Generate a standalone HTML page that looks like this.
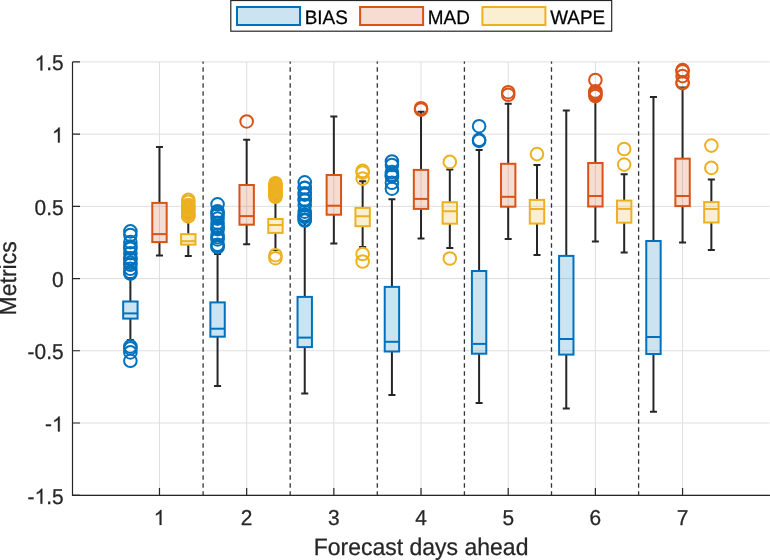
<!DOCTYPE html>
<html><head><meta charset="utf-8"><title>Metrics boxchart</title>
<style>html,body{margin:0;padding:0;background:#fff;}svg{display:block;font-family:"Liberation Sans",sans-serif;text-rendering:geometricPrecision;will-change:transform;}</style>
</head><body>
<svg width="770" height="560" viewBox="0 0 770 560">
<rect x="0" y="0" width="770" height="560" fill="#fff"/>
<path d="M72.3 495.2H769.74M72.3 422.98H769.74M72.3 350.77H769.74M72.3 278.55H769.74M72.3 206.33H769.74M72.3 134.12H769.74M72.3 61.9H769.74M159.48 61.9V495.2M246.66 61.9V495.2M333.84 61.9V495.2M421.02 61.9V495.2M508.2 61.9V495.2M595.38 61.9V495.2M682.56 61.9V495.2" stroke="#dfdfdf" stroke-width="1" fill="none"/>
<clipPath id="cp"><rect x="0" y="61.4" width="770" height="433.8"/></clipPath>
<path clip-path="url(#cp)" d="M203.1 59.15V495.2M290.2 59.15V495.2M377.3 59.15V495.2M464.4 59.15V495.2M551.5 59.15V495.2M638.6 59.15V495.2" stroke="#333" stroke-width="1.3" stroke-dasharray="4.6 3.4" fill="none"/>
<path d="M130.38 301.5V278.1M130.38 318.6V340M126.88 278.1H133.88M126.88 340H133.88" stroke="#262626" stroke-width="2" fill="none"/>
<rect x="123.18" y="301.5" width="14.4" height="17.1" fill="#0072BD" fill-opacity="0.2" stroke="#0072BD" stroke-width="2"/>
<path d="M123.18 313.4H137.58" stroke="#0072BD" stroke-width="2"/>
<circle cx="130.38" cy="231.4" r="6.3" fill="none" stroke="#0072BD" stroke-width="2"/>
<circle cx="130.38" cy="235" r="6.3" fill="none" stroke="#0072BD" stroke-width="2"/>
<circle cx="130.38" cy="242.1" r="6.3" fill="none" stroke="#0072BD" stroke-width="2"/>
<circle cx="130.38" cy="246.5" r="6.3" fill="none" stroke="#0072BD" stroke-width="2"/>
<circle cx="130.38" cy="248.7" r="6.3" fill="none" stroke="#0072BD" stroke-width="2"/>
<circle cx="130.38" cy="253.2" r="6.3" fill="none" stroke="#0072BD" stroke-width="2"/>
<circle cx="130.38" cy="258.2" r="6.3" fill="none" stroke="#0072BD" stroke-width="2"/>
<circle cx="130.38" cy="259.4" r="6.3" fill="none" stroke="#0072BD" stroke-width="2"/>
<circle cx="130.38" cy="262.9" r="6.3" fill="none" stroke="#0072BD" stroke-width="2"/>
<circle cx="130.38" cy="264.8" r="6.3" fill="none" stroke="#0072BD" stroke-width="2"/>
<circle cx="130.38" cy="268.8" r="6.3" fill="none" stroke="#0072BD" stroke-width="2"/>
<circle cx="130.38" cy="271.9" r="6.3" fill="none" stroke="#0072BD" stroke-width="2"/>
<circle cx="130.38" cy="273.6" r="6.3" fill="none" stroke="#0072BD" stroke-width="2"/>
<circle cx="130.38" cy="346.4" r="6.3" fill="none" stroke="#0072BD" stroke-width="2"/>
<circle cx="130.38" cy="348.4" r="6.3" fill="none" stroke="#0072BD" stroke-width="2"/>
<circle cx="130.38" cy="352.4" r="6.3" fill="none" stroke="#0072BD" stroke-width="2"/>
<circle cx="130.38" cy="360.8" r="6.3" fill="none" stroke="#0072BD" stroke-width="2"/>
<path d="M159.48 202.9V146.9M159.48 242.1V255.4M155.98 146.9H162.98M155.98 255.4H162.98" stroke="#262626" stroke-width="2" fill="none"/>
<rect x="152.28" y="202.9" width="14.4" height="39.2" fill="#D95319" fill-opacity="0.2" stroke="#D95319" stroke-width="2"/>
<path d="M152.28 234.1H166.68" stroke="#D95319" stroke-width="2"/>
<path d="M188.28 234.1V218.4M188.28 244.6V256.1M184.78 218.4H191.78M184.78 256.1H191.78" stroke="#262626" stroke-width="2" fill="none"/>
<rect x="181.08" y="234.1" width="14.4" height="10.5" fill="#EDB120" fill-opacity="0.2" stroke="#EDB120" stroke-width="2"/>
<path d="M181.08 241.2H195.48" stroke="#EDB120" stroke-width="2"/>
<circle cx="188.28" cy="199.9" r="6.3" fill="none" stroke="#EDB120" stroke-width="2"/>
<circle cx="188.28" cy="201.9" r="6.3" fill="none" stroke="#EDB120" stroke-width="2"/>
<circle cx="188.28" cy="205" r="6.3" fill="none" stroke="#EDB120" stroke-width="2"/>
<circle cx="188.28" cy="206.8" r="6.3" fill="none" stroke="#EDB120" stroke-width="2"/>
<circle cx="188.28" cy="207.6" r="6.3" fill="none" stroke="#EDB120" stroke-width="2"/>
<circle cx="188.28" cy="209.1" r="6.3" fill="none" stroke="#EDB120" stroke-width="2"/>
<circle cx="188.28" cy="210.8" r="6.3" fill="none" stroke="#EDB120" stroke-width="2"/>
<circle cx="188.28" cy="212.8" r="6.3" fill="none" stroke="#EDB120" stroke-width="2"/>
<circle cx="188.28" cy="213.9" r="6.3" fill="none" stroke="#EDB120" stroke-width="2"/>
<circle cx="188.28" cy="215.8" r="6.3" fill="none" stroke="#EDB120" stroke-width="2"/>
<circle cx="188.28" cy="216.4" r="6.3" fill="none" stroke="#EDB120" stroke-width="2"/>
<path d="M217.56 302.4V254.1M217.56 336.7V386M214.06 254.1H221.06M214.06 386H221.06" stroke="#262626" stroke-width="2" fill="none"/>
<rect x="210.36" y="302.4" width="14.4" height="34.3" fill="#0072BD" fill-opacity="0.2" stroke="#0072BD" stroke-width="2"/>
<path d="M210.36 328.7H224.76" stroke="#0072BD" stroke-width="2"/>
<circle cx="217.56" cy="204.3" r="6.3" fill="none" stroke="#0072BD" stroke-width="2"/>
<circle cx="217.56" cy="211.2" r="6.3" fill="none" stroke="#0072BD" stroke-width="2"/>
<circle cx="217.56" cy="213.1" r="6.3" fill="none" stroke="#0072BD" stroke-width="2"/>
<circle cx="217.56" cy="215" r="6.3" fill="none" stroke="#0072BD" stroke-width="2"/>
<circle cx="217.56" cy="218.6" r="6.3" fill="none" stroke="#0072BD" stroke-width="2"/>
<circle cx="217.56" cy="222.8" r="6.3" fill="none" stroke="#0072BD" stroke-width="2"/>
<circle cx="217.56" cy="226" r="6.3" fill="none" stroke="#0072BD" stroke-width="2"/>
<circle cx="217.56" cy="228.2" r="6.3" fill="none" stroke="#0072BD" stroke-width="2"/>
<circle cx="217.56" cy="229.2" r="6.3" fill="none" stroke="#0072BD" stroke-width="2"/>
<circle cx="217.56" cy="234.8" r="6.3" fill="none" stroke="#0072BD" stroke-width="2"/>
<circle cx="217.56" cy="237.2" r="6.3" fill="none" stroke="#0072BD" stroke-width="2"/>
<circle cx="217.56" cy="239.4" r="6.3" fill="none" stroke="#0072BD" stroke-width="2"/>
<circle cx="217.56" cy="244.7" r="6.3" fill="none" stroke="#0072BD" stroke-width="2"/>
<circle cx="217.56" cy="245.8" r="6.3" fill="none" stroke="#0072BD" stroke-width="2"/>
<circle cx="217.56" cy="247.2" r="6.3" fill="none" stroke="#0072BD" stroke-width="2"/>
<path d="M246.66 185V139.7M246.66 224.7V244.2M243.16 139.7H250.16M243.16 244.2H250.16" stroke="#262626" stroke-width="2" fill="none"/>
<rect x="239.46" y="185" width="14.4" height="39.7" fill="#D95319" fill-opacity="0.2" stroke="#D95319" stroke-width="2"/>
<path d="M239.46 216.1H253.86" stroke="#D95319" stroke-width="2"/>
<circle cx="246.66" cy="121.45" r="6.3" fill="none" stroke="#D95319" stroke-width="2"/>
<path d="M275.46 219V198.3M275.46 232.9V250M271.96 198.3H278.96M271.96 250H278.96" stroke="#262626" stroke-width="2" fill="none"/>
<rect x="268.26" y="219" width="14.4" height="13.9" fill="#EDB120" fill-opacity="0.2" stroke="#EDB120" stroke-width="2"/>
<path d="M268.26 225H282.66" stroke="#EDB120" stroke-width="2"/>
<circle cx="275.46" cy="183.2" r="6.3" fill="none" stroke="#EDB120" stroke-width="2"/>
<circle cx="275.46" cy="185" r="6.3" fill="none" stroke="#EDB120" stroke-width="2"/>
<circle cx="275.46" cy="186.5" r="6.3" fill="none" stroke="#EDB120" stroke-width="2"/>
<circle cx="275.46" cy="188" r="6.3" fill="none" stroke="#EDB120" stroke-width="2"/>
<circle cx="275.46" cy="189.5" r="6.3" fill="none" stroke="#EDB120" stroke-width="2"/>
<circle cx="275.46" cy="191" r="6.3" fill="none" stroke="#EDB120" stroke-width="2"/>
<circle cx="275.46" cy="192.5" r="6.3" fill="none" stroke="#EDB120" stroke-width="2"/>
<circle cx="275.46" cy="194" r="6.3" fill="none" stroke="#EDB120" stroke-width="2"/>
<circle cx="275.46" cy="195.5" r="6.3" fill="none" stroke="#EDB120" stroke-width="2"/>
<circle cx="275.46" cy="196.8" r="6.3" fill="none" stroke="#EDB120" stroke-width="2"/>
<circle cx="275.46" cy="255.2" r="6.3" fill="none" stroke="#EDB120" stroke-width="2"/>
<circle cx="275.46" cy="258.2" r="6.3" fill="none" stroke="#EDB120" stroke-width="2"/>
<path d="M304.74 296.9V221.4M304.74 347.1V393.6M301.24 221.4H308.24M301.24 393.6H308.24" stroke="#262626" stroke-width="2" fill="none"/>
<rect x="297.54" y="296.9" width="14.4" height="50.2" fill="#0072BD" fill-opacity="0.2" stroke="#0072BD" stroke-width="2"/>
<path d="M297.54 337.6H311.94" stroke="#0072BD" stroke-width="2"/>
<circle cx="304.74" cy="182.3" r="6.3" fill="none" stroke="#0072BD" stroke-width="2"/>
<circle cx="304.74" cy="187.7" r="6.3" fill="none" stroke="#0072BD" stroke-width="2"/>
<circle cx="304.74" cy="188.1" r="6.3" fill="none" stroke="#0072BD" stroke-width="2"/>
<circle cx="304.74" cy="193.3" r="6.3" fill="none" stroke="#0072BD" stroke-width="2"/>
<circle cx="304.74" cy="194.7" r="6.3" fill="none" stroke="#0072BD" stroke-width="2"/>
<circle cx="304.74" cy="199.5" r="6.3" fill="none" stroke="#0072BD" stroke-width="2"/>
<circle cx="304.74" cy="200.6" r="6.3" fill="none" stroke="#0072BD" stroke-width="2"/>
<circle cx="304.74" cy="205" r="6.3" fill="none" stroke="#0072BD" stroke-width="2"/>
<circle cx="304.74" cy="211.7" r="6.3" fill="none" stroke="#0072BD" stroke-width="2"/>
<circle cx="304.74" cy="214.6" r="6.3" fill="none" stroke="#0072BD" stroke-width="2"/>
<circle cx="304.74" cy="216.4" r="6.3" fill="none" stroke="#0072BD" stroke-width="2"/>
<circle cx="304.74" cy="216.9" r="6.3" fill="none" stroke="#0072BD" stroke-width="2"/>
<circle cx="304.74" cy="219.5" r="6.3" fill="none" stroke="#0072BD" stroke-width="2"/>
<circle cx="304.74" cy="220.5" r="6.3" fill="none" stroke="#0072BD" stroke-width="2"/>
<path d="M333.84 175V116.5M333.84 214.7V243.4M330.34 116.5H337.34M330.34 243.4H337.34" stroke="#262626" stroke-width="2" fill="none"/>
<rect x="326.64" y="175" width="14.4" height="39.7" fill="#D95319" fill-opacity="0.2" stroke="#D95319" stroke-width="2"/>
<path d="M326.64 205.7H341.04" stroke="#D95319" stroke-width="2"/>
<path d="M362.64 207.9V181.2M362.64 226.2V247M359.14 181.2H366.14M359.14 247H366.14" stroke="#262626" stroke-width="2" fill="none"/>
<rect x="355.44" y="207.9" width="14.4" height="18.3" fill="#EDB120" fill-opacity="0.2" stroke="#EDB120" stroke-width="2"/>
<path d="M355.44 216.25H369.84" stroke="#EDB120" stroke-width="2"/>
<circle cx="362.64" cy="170.9" r="6.3" fill="none" stroke="#EDB120" stroke-width="2"/>
<circle cx="362.64" cy="172.6" r="6.3" fill="none" stroke="#EDB120" stroke-width="2"/>
<circle cx="362.64" cy="178.6" r="6.3" fill="none" stroke="#EDB120" stroke-width="2"/>
<circle cx="362.64" cy="254" r="6.3" fill="none" stroke="#EDB120" stroke-width="2"/>
<circle cx="362.64" cy="261.5" r="6.3" fill="none" stroke="#EDB120" stroke-width="2"/>
<path d="M391.92 286.9V199.2M391.92 351.5V395M388.42 199.2H395.42M388.42 395H395.42" stroke="#262626" stroke-width="2" fill="none"/>
<rect x="384.72" y="286.9" width="14.4" height="64.6" fill="#0072BD" fill-opacity="0.2" stroke="#0072BD" stroke-width="2"/>
<path d="M384.72 341.8H399.12" stroke="#0072BD" stroke-width="2"/>
<circle cx="391.92" cy="161.5" r="6.3" fill="none" stroke="#0072BD" stroke-width="2"/>
<circle cx="391.92" cy="165" r="6.3" fill="none" stroke="#0072BD" stroke-width="2"/>
<circle cx="391.92" cy="172.1" r="6.3" fill="none" stroke="#0072BD" stroke-width="2"/>
<circle cx="391.92" cy="174.5" r="6.3" fill="none" stroke="#0072BD" stroke-width="2"/>
<circle cx="391.92" cy="175.9" r="6.3" fill="none" stroke="#0072BD" stroke-width="2"/>
<circle cx="391.92" cy="176.4" r="6.3" fill="none" stroke="#0072BD" stroke-width="2"/>
<circle cx="391.92" cy="182.8" r="6.3" fill="none" stroke="#0072BD" stroke-width="2"/>
<circle cx="391.92" cy="188.7" r="6.3" fill="none" stroke="#0072BD" stroke-width="2"/>
<path d="M421.02 169.9V111.8M421.02 208.9V238.6M417.52 111.8H424.52M417.52 238.6H424.52" stroke="#262626" stroke-width="2" fill="none"/>
<rect x="413.82" y="169.9" width="14.4" height="39" fill="#D95319" fill-opacity="0.2" stroke="#D95319" stroke-width="2"/>
<path d="M413.82 198.9H428.22" stroke="#D95319" stroke-width="2"/>
<circle cx="421.02" cy="108.2" r="6.3" fill="none" stroke="#D95319" stroke-width="2"/>
<circle cx="421.02" cy="109.6" r="6.3" fill="none" stroke="#D95319" stroke-width="2"/>
<path d="M449.82 202.25V169.5M449.82 223.7V248M446.32 169.5H453.32M446.32 248H453.32" stroke="#262626" stroke-width="2" fill="none"/>
<rect x="442.62" y="202.25" width="14.4" height="21.45" fill="#EDB120" fill-opacity="0.2" stroke="#EDB120" stroke-width="2"/>
<path d="M442.62 211.25H457.02" stroke="#EDB120" stroke-width="2"/>
<circle cx="449.82" cy="161.9" r="6.3" fill="none" stroke="#EDB120" stroke-width="2"/>
<circle cx="449.82" cy="258.5" r="6.3" fill="none" stroke="#EDB120" stroke-width="2"/>
<path d="M479.1 271V149.9M479.1 353.7V402.9M475.6 149.9H482.6M475.6 402.9H482.6" stroke="#262626" stroke-width="2" fill="none"/>
<rect x="471.9" y="271" width="14.4" height="82.7" fill="#0072BD" fill-opacity="0.2" stroke="#0072BD" stroke-width="2"/>
<path d="M471.9 343.9H486.3" stroke="#0072BD" stroke-width="2"/>
<circle cx="479.1" cy="126.2" r="6.3" fill="none" stroke="#0072BD" stroke-width="2"/>
<circle cx="479.1" cy="139.8" r="6.3" fill="none" stroke="#0072BD" stroke-width="2"/>
<circle cx="479.1" cy="140.9" r="6.3" fill="none" stroke="#0072BD" stroke-width="2"/>
<path d="M508.2 163.8V103.7M508.2 206.7V239M504.7 103.7H511.7M504.7 239H511.7" stroke="#262626" stroke-width="2" fill="none"/>
<rect x="501" y="163.8" width="14.4" height="42.9" fill="#D95319" fill-opacity="0.2" stroke="#D95319" stroke-width="2"/>
<path d="M501 196.8H515.4" stroke="#D95319" stroke-width="2"/>
<circle cx="508.2" cy="92.2" r="6.3" fill="none" stroke="#D95319" stroke-width="2"/>
<circle cx="508.2" cy="94.8" r="6.3" fill="none" stroke="#D95319" stroke-width="2"/>
<path d="M537 199.9V165.1M537 223.6V255.1M533.5 165.1H540.5M533.5 255.1H540.5" stroke="#262626" stroke-width="2" fill="none"/>
<rect x="529.8" y="199.9" width="14.4" height="23.7" fill="#EDB120" fill-opacity="0.2" stroke="#EDB120" stroke-width="2"/>
<path d="M529.8 209H544.2" stroke="#EDB120" stroke-width="2"/>
<circle cx="537" cy="154.1" r="6.3" fill="none" stroke="#EDB120" stroke-width="2"/>
<path d="M566.28 255.9V110.6M566.28 354.6V408.4M562.78 110.6H569.78M562.78 408.4H569.78" stroke="#262626" stroke-width="2" fill="none"/>
<rect x="559.08" y="255.9" width="14.4" height="98.7" fill="#0072BD" fill-opacity="0.2" stroke="#0072BD" stroke-width="2"/>
<path d="M559.08 339H573.48" stroke="#0072BD" stroke-width="2"/>
<path d="M595.38 163V100M595.38 206.5V241.6M591.88 100H598.88M591.88 241.6H598.88" stroke="#262626" stroke-width="2" fill="none"/>
<rect x="588.18" y="163" width="14.4" height="43.5" fill="#D95319" fill-opacity="0.2" stroke="#D95319" stroke-width="2"/>
<path d="M588.18 196H602.58" stroke="#D95319" stroke-width="2"/>
<circle cx="595.38" cy="80" r="6.3" fill="none" stroke="#D95319" stroke-width="2"/>
<circle cx="595.38" cy="91.4" r="6.3" fill="none" stroke="#D95319" stroke-width="2"/>
<circle cx="595.38" cy="92.9" r="6.3" fill="none" stroke="#D95319" stroke-width="2"/>
<circle cx="595.38" cy="94.1" r="6.3" fill="none" stroke="#D95319" stroke-width="2"/>
<circle cx="595.38" cy="96.1" r="6.3" fill="none" stroke="#D95319" stroke-width="2"/>
<path d="M624.18 200.6V174.25M624.18 222.7V252.5M620.68 174.25H627.68M620.68 252.5H627.68" stroke="#262626" stroke-width="2" fill="none"/>
<rect x="616.98" y="200.6" width="14.4" height="22.1" fill="#EDB120" fill-opacity="0.2" stroke="#EDB120" stroke-width="2"/>
<path d="M616.98 208.9H631.38" stroke="#EDB120" stroke-width="2"/>
<circle cx="624.18" cy="149" r="6.3" fill="none" stroke="#EDB120" stroke-width="2"/>
<circle cx="624.18" cy="164.6" r="6.3" fill="none" stroke="#EDB120" stroke-width="2"/>
<path d="M653.46 241V97.1M653.46 354V411.7M649.96 97.1H656.96M649.96 411.7H656.96" stroke="#262626" stroke-width="2" fill="none"/>
<rect x="646.26" y="241" width="14.4" height="113" fill="#0072BD" fill-opacity="0.2" stroke="#0072BD" stroke-width="2"/>
<path d="M646.26 337H660.66" stroke="#0072BD" stroke-width="2"/>
<path d="M682.56 158.65V87.4M682.56 206.1V242.4M679.06 87.4H686.06M679.06 242.4H686.06" stroke="#262626" stroke-width="2" fill="none"/>
<rect x="675.36" y="158.65" width="14.4" height="47.45" fill="#D95319" fill-opacity="0.2" stroke="#D95319" stroke-width="2"/>
<path d="M675.36 196H689.76" stroke="#D95319" stroke-width="2"/>
<circle cx="682.56" cy="70.1" r="6.3" fill="none" stroke="#D95319" stroke-width="2"/>
<circle cx="682.56" cy="71.3" r="6.3" fill="none" stroke="#D95319" stroke-width="2"/>
<circle cx="682.56" cy="76.1" r="6.3" fill="none" stroke="#D95319" stroke-width="2"/>
<circle cx="682.56" cy="82.2" r="6.3" fill="none" stroke="#D95319" stroke-width="2"/>
<circle cx="682.56" cy="83.2" r="6.3" fill="none" stroke="#D95319" stroke-width="2"/>
<path d="M711.36 202.1V179.5M711.36 222.5V250M707.86 179.5H714.86M707.86 250H714.86" stroke="#262626" stroke-width="2" fill="none"/>
<rect x="704.16" y="202.1" width="14.4" height="20.4" fill="#EDB120" fill-opacity="0.2" stroke="#EDB120" stroke-width="2"/>
<path d="M704.16 209H718.56" stroke="#EDB120" stroke-width="2"/>
<circle cx="711.36" cy="145.6" r="6.3" fill="none" stroke="#EDB120" stroke-width="2"/>
<circle cx="711.36" cy="167.9" r="6.3" fill="none" stroke="#EDB120" stroke-width="2"/>
<path d="M72.5 61.9V495.9M72 495.35H770M72.5 495.2H80M72.5 422.98H80M72.5 350.77H80M72.5 278.55H80M72.5 206.33H80M72.5 134.12H80M72.5 61.9H80M159.48 495.2V487.9M246.66 495.2V487.9M333.84 495.2V487.9M421.02 495.2V487.9M508.2 495.2V487.9M595.38 495.2V487.9M682.56 495.2V487.9" stroke="#262626" stroke-width="1.2" fill="none"/>
<text transform="translate(27.59 503.7) scale(1 1.035)" font-size="20.9" fill="#262626" stroke="#262626" stroke-width="0.25" text-anchor="start">-</text>
<path transform="translate(34.55 503.7) scale(0.010205 -0.010205)" d="M763 0H583V1147Q518 1085 412.5 1023T223 930V1104Q374 1175 487 1276T647 1472H763V0Z" fill="#262626" stroke="#262626" stroke-width="24.50"/>
<text transform="translate(46.17 503.7) scale(1 1.035)" font-size="20.9" fill="#262626" stroke="#262626" stroke-width="0.25" text-anchor="start">.5</text>
<text transform="translate(45.02 431.48) scale(1 1.035)" font-size="20.9" fill="#262626" stroke="#262626" stroke-width="0.25" text-anchor="start">-</text>
<path transform="translate(51.98 431.48) scale(0.010205 -0.010205)" d="M763 0H583V1147Q518 1085 412.5 1023T223 930V1104Q374 1175 487 1276T647 1472H763V0Z" fill="#262626" stroke="#262626" stroke-width="24.50"/>
<text transform="translate(27.59 359.27) scale(1 1.035)" font-size="20.9" fill="#262626" stroke="#262626" stroke-width="0.25" text-anchor="start">-0.5</text>
<text transform="translate(51.98 287.05) scale(1 1.035)" font-size="20.9" fill="#262626" stroke="#262626" stroke-width="0.25" text-anchor="start">0</text>
<text transform="translate(34.55 214.83) scale(1 1.035)" font-size="20.9" fill="#262626" stroke="#262626" stroke-width="0.25" text-anchor="start">0.5</text>
<path transform="translate(51.98 142.62) scale(0.010205 -0.010205)" d="M763 0H583V1147Q518 1085 412.5 1023T223 930V1104Q374 1175 487 1276T647 1472H763V0Z" fill="#262626" stroke="#262626" stroke-width="24.50"/>
<path transform="translate(34.55 70.4) scale(0.010205 -0.010205)" d="M763 0H583V1147Q518 1085 412.5 1023T223 930V1104Q374 1175 487 1276T647 1472H763V0Z" fill="#262626" stroke="#262626" stroke-width="24.50"/>
<text transform="translate(46.17 70.4) scale(1 1.035)" font-size="20.9" fill="#262626" stroke="#262626" stroke-width="0.25" text-anchor="start">.5</text>
<path transform="translate(153.67 524.9) scale(0.010205 -0.010205)" d="M763 0H583V1147Q518 1085 412.5 1023T223 930V1104Q374 1175 487 1276T647 1472H763V0Z" fill="#262626" stroke="#262626" stroke-width="24.50"/>
<text transform="translate(240.85 524.9) scale(1 1.035)" font-size="20.9" fill="#262626" stroke="#262626" stroke-width="0.25" text-anchor="start">2</text>
<text transform="translate(328.03 524.9) scale(1 1.035)" font-size="20.9" fill="#262626" stroke="#262626" stroke-width="0.25" text-anchor="start">3</text>
<text transform="translate(415.21 524.9) scale(1 1.035)" font-size="20.9" fill="#262626" stroke="#262626" stroke-width="0.25" text-anchor="start">4</text>
<text transform="translate(502.39 524.9) scale(1 1.035)" font-size="20.9" fill="#262626" stroke="#262626" stroke-width="0.25" text-anchor="start">5</text>
<text transform="translate(589.57 524.9) scale(1 1.035)" font-size="20.9" fill="#262626" stroke="#262626" stroke-width="0.25" text-anchor="start">6</text>
<text transform="translate(676.75 524.9) scale(1 1.035)" font-size="20.9" fill="#262626" stroke="#262626" stroke-width="0.25" text-anchor="start">7</text>
<text transform="translate(421.02 554.8) scale(1 1.035)" font-size="23" fill="#262626" stroke="#262626" stroke-width="0.25" text-anchor="middle">Forecast days ahead</text>
<text transform="translate(16.3 278.4) rotate(-90) scale(1 1.035)" font-size="23" fill="#262626" stroke="#262626" stroke-width="0.25" text-anchor="middle">Metrics</text>
<rect x="230.8" y="0.5" width="380.9" height="30.7" fill="#fff" stroke="#262626" stroke-width="1.2"/>
<rect x="237" y="7" width="63" height="18" fill="#0072BD" fill-opacity="0.2" stroke="#0072BD" stroke-width="2"/>
<text transform="translate(304.7 23.9) scale(1 1.035)" font-size="18.9" fill="#000" stroke="#000" stroke-width="0.25" text-anchor="start">BIAS</text>
<rect x="360.1" y="7" width="63" height="18" fill="#D95319" fill-opacity="0.2" stroke="#D95319" stroke-width="2"/>
<text transform="translate(427.8 23.9) scale(1 1.035)" font-size="18.9" fill="#000" stroke="#000" stroke-width="0.25" text-anchor="start">MAD</text>
<rect x="482.4" y="7" width="63" height="18" fill="#EDB120" fill-opacity="0.2" stroke="#EDB120" stroke-width="2"/>
<text transform="translate(550.2 23.9) scale(1 1.035)" font-size="18.9" fill="#000" stroke="#000" stroke-width="0.25" text-anchor="start">WAPE</text>
</svg>
</body></html>
